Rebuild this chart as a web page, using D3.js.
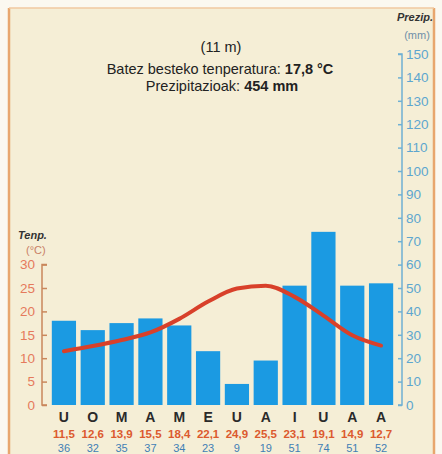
<!DOCTYPE html>
<html>
<head>
<meta charset="utf-8">
<script src="https://cdn.jsdelivr.net/npm/d3@7"></script>
<style>
  body { margin: 0; background: #fbf8f0; }
  svg { display: block; font-family: "Liberation Sans", Arial, sans-serif; }
</style>
</head>
<body>
<div id="chart"></div>
<script>
// data
var months = ["U", "O", "M", "A", "M", "E", "U", "A", "I", "U", "A", "A"];
var temps = [11.5, 12.6, 13.9, 15.5, 18.4, 22.1, 24.9, 25.5, 23.1, 19.1, 14.9, 12.7];
var precip = [36, 32, 35, 37, 34, 23, 9, 19, 51, 74, 51, 52];
var tempTicks = [0, 5, 10, 15, 20, 25, 30];
var precipTicks = [0, 10, 20, 30, 40, 50, 60, 70, 80, 90, 100, 110, 120, 130, 140, 150];
var fmt = function(v) { return String(v).replace(".", ","); };

var W = 442, H = 454;
var svg = d3.select("#chart").append("svg")
  .attr("width", W)
  .attr("height", H);

// paper + frame
svg.append("rect").attr("x", 9).attr("y", 8).attr("width", 425).attr("height", H - 8)
  .attr("fill", "#f5eed6");
svg.append("line").attr("x1", 9).attr("x2", 9).attr("y1", 8).attr("y2", H)
  .attr("stroke", "#e8a66e").attr("stroke-width", 2.5);
svg.append("line").attr("x1", 434).attr("x2", 434).attr("y1", 8).attr("y2", H)
  .attr("stroke", "#e8a66e").attr("stroke-width", 2.5);
svg.append("line").attr("x1", 9).attr("x2", 434).attr("y1", 8).attr("y2", 8)
  .attr("stroke", "#f0c9a0").attr("stroke-width", 1.5);

// scales
var x = d3.scaleBand()
  .domain(d3.range(months.length))
  .range([49.5, 395.5])
  .paddingInner(0.16)
  .paddingOuter(0.08);

var yP = d3.scaleLinear().domain([0, 150]).range([405, 54]);
var yT = d3.scaleLinear().domain([0, 75]).range([405, 54]);

// bars
svg.selectAll(".bar")
  .data(precip)
  .enter().append("rect")
    .attr("class", "bar")
    .attr("x", function(d, i) { return x(i); })
    .attr("y", function(d) { return yP(d); })
    .attr("width", x.bandwidth())
    .attr("height", function(d) { return yP(0) - yP(d); })
    .attr("fill", "#1b9ae2");

// temperature line
var line = d3.line()
  .x(function(d, i) { return x(i) + x.bandwidth() / 2; })
  .y(function(d) { return yT(d); })
  .curve(d3.curveMonotoneX);

svg.append("path")
  .datum(temps)
  .attr("d", line)
  .attr("fill", "none")
  .attr("stroke", "#d8402a")
  .attr("stroke-width", 4)
  .attr("stroke-linecap", "round");

// left axis (temperature)
var leftAxis = svg.append("g")
  .attr("transform", "translate(42,0)")
  .call(d3.axisRight(yT).tickValues(tempTicks).tickSize(5).tickSizeOuter(0));
leftAxis.select(".domain").attr("stroke", "#c9875c").attr("stroke-width", 1.5)
  .attr("d", "M5," + yT(30) + "H0V" + yT(0) + "H5");
leftAxis.selectAll(".tick line").attr("stroke", "#c9875c").attr("stroke-width", 1.5);
leftAxis.selectAll(".tick text")
  .attr("x", -7)
  .attr("text-anchor", "end")
  .attr("fill", "#e57a5c")
  .attr("font-size", 13.5)
  .attr("font-family", "Liberation Sans, Arial, sans-serif");

// right axis (precipitation)
var rightAxis = svg.append("g")
  .attr("transform", "translate(402,0)")
  .call(d3.axisLeft(yP).tickValues(precipTicks).tickSize(4).tickSizeOuter(0));
rightAxis.select(".domain").attr("stroke", "#6fb0d4").attr("stroke-width", 1.5)
  .attr("d", "M-4," + yP(150) + "H0V" + yP(0) + "H-4");
rightAxis.selectAll(".tick line").attr("stroke", "#6fb0d4").attr("stroke-width", 1.5);
rightAxis.selectAll(".tick text")
  .attr("x", 4)
  .attr("text-anchor", "start")
  .attr("fill", "#5da6cf")
  .attr("font-size", 13.5)
  .attr("font-family", "Liberation Sans, Arial, sans-serif");

// axis titles
svg.append("text").attr("x", 18).attr("y", 239).text("Tenp.")
  .attr("font-size", 11).attr("font-weight", "bold").attr("font-style", "italic").attr("fill", "#333");
svg.append("text").attr("x", 26).attr("y", 254).text("(°C)")
  .attr("font-size", 11).attr("fill", "#c98066");
svg.append("text").attr("x", 433).attr("y", 21).attr("text-anchor", "end").text("Prezip.")
  .attr("font-size", 11).attr("font-weight", "bold").attr("font-style", "italic").attr("fill", "#333");
svg.append("text").attr("x", 417).attr("y", 39).attr("text-anchor", "middle").text("(mm)")
  .attr("font-size", 11).attr("fill", "#6f8fa8");

// header
svg.append("text").attr("x", 221).attr("y", 52).attr("text-anchor", "middle")
  .attr("font-size", 14.5).attr("fill", "#222").text("(11 m)");
var t1 = svg.append("text").attr("x", 220).attr("y", 74).attr("text-anchor", "middle")
  .attr("font-size", 14.5).attr("fill", "#222");
t1.append("tspan").text("Batez besteko tenperatura: ");
t1.append("tspan").attr("font-weight", "bold").text("17,8 °C");
var t2 = svg.append("text").attr("x", 222).attr("y", 91).attr("text-anchor", "middle")
  .attr("font-size", 14.5).attr("fill", "#222");
t2.append("tspan").text("Prezipitazioak: ");
t2.append("tspan").attr("font-weight", "bold").text("454 mm");

// month labels and value rows
var cx = function(d, i) { return x(i) + x.bandwidth() / 2; };
svg.selectAll(".month").data(months).enter().append("text")
  .attr("class", "month")
  .attr("x", cx).attr("y", 422)
  .attr("text-anchor", "middle")
  .attr("font-size", 14).attr("font-weight", "bold").attr("fill", "#2a2a2a")
  .text(function(d) { return d; });
svg.selectAll(".tval").data(temps).enter().append("text")
  .attr("class", "tval")
  .attr("x", cx).attr("y", 438)
  .attr("text-anchor", "middle")
  .attr("font-size", 11.5).attr("font-weight", "bold").attr("fill", "#dc5a2e")
  .text(function(d) { return fmt(d); });
svg.selectAll(".pval").data(precip).enter().append("text")
  .attr("class", "pval")
  .attr("x", cx).attr("y", 452)
  .attr("text-anchor", "middle")
  .attr("font-size", 11).attr("fill", "#3f7fb5")
  .text(function(d) { return d; });
</script>
</body>
</html>
